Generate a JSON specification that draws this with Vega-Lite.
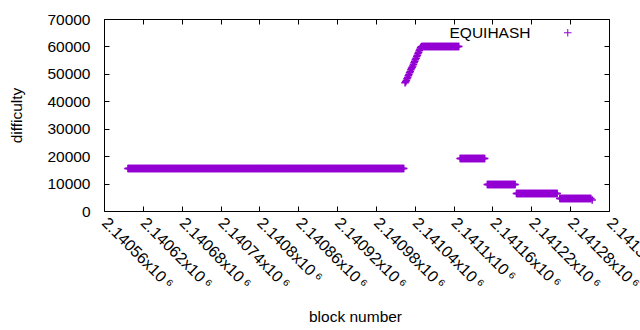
{
"$schema":"https://vega.github.io/schema/vega-lite/v6.json",
"width":505,"height":192,
"autosize":{"type":"none"},
"padding":{"left":104,"top":19,"right":31,"bottom":119},
"config":{"view":{"stroke":"#000","strokeWidth":1},"font":"Liberation Sans","axis":{"grid":false,"domain":false,"tickColor":"#000","tickWidth":1,"labelColor":"#000","titleColor":"#000","labelFontSize":15.5,"titleFontSize":15.5,"titleFontWeight":"normal"}},
"data":{"values":[
{"b":2140597,"d":15500},{"b":2140598,"d":15500},{"b":2140599,"d":15500},
{"b":2140600,"d":15500},{"b":2140601,"d":15500},{"b":2140602,"d":15500},{"b":2140603,"d":15500},{"b":2140604,"d":15500},{"b":2140605,"d":15500},{"b":2140606,"d":15500},{"b":2140607,"d":15500},{"b":2140608,"d":15500},{"b":2140609,"d":15500},
{"b":2140610,"d":15500},{"b":2140611,"d":15500},{"b":2140612,"d":15500},{"b":2140613,"d":15500},{"b":2140614,"d":15500},{"b":2140615,"d":15500},{"b":2140616,"d":15500},{"b":2140617,"d":15500},{"b":2140618,"d":15500},{"b":2140619,"d":15500},
{"b":2140620,"d":15500},{"b":2140621,"d":15500},{"b":2140622,"d":15500},{"b":2140623,"d":15500},{"b":2140624,"d":15500},{"b":2140625,"d":15500},{"b":2140626,"d":15500},{"b":2140627,"d":15500},{"b":2140628,"d":15500},{"b":2140629,"d":15500},
{"b":2140630,"d":15500},{"b":2140631,"d":15500},{"b":2140632,"d":15500},{"b":2140633,"d":15500},{"b":2140634,"d":15500},{"b":2140635,"d":15500},{"b":2140636,"d":15500},{"b":2140637,"d":15500},{"b":2140638,"d":15500},{"b":2140639,"d":15500},
{"b":2140640,"d":15500},{"b":2140641,"d":15500},{"b":2140642,"d":15500},{"b":2140643,"d":15500},{"b":2140644,"d":15500},{"b":2140645,"d":15500},{"b":2140646,"d":15500},{"b":2140647,"d":15500},{"b":2140648,"d":15500},{"b":2140649,"d":15500},
{"b":2140650,"d":15500},{"b":2140651,"d":15500},{"b":2140652,"d":15500},{"b":2140653,"d":15500},{"b":2140654,"d":15500},{"b":2140655,"d":15500},{"b":2140656,"d":15500},{"b":2140657,"d":15500},{"b":2140658,"d":15500},{"b":2140659,"d":15500},
{"b":2140660,"d":15500},{"b":2140661,"d":15500},{"b":2140662,"d":15500},{"b":2140663,"d":15500},{"b":2140664,"d":15500},{"b":2140665,"d":15500},{"b":2140666,"d":15500},{"b":2140667,"d":15500},{"b":2140668,"d":15500},{"b":2140669,"d":15500},
{"b":2140670,"d":15500},{"b":2140671,"d":15500},{"b":2140672,"d":15500},{"b":2140673,"d":15500},{"b":2140674,"d":15500},{"b":2140675,"d":15500},{"b":2140676,"d":15500},{"b":2140677,"d":15500},{"b":2140678,"d":15500},{"b":2140679,"d":15500},
{"b":2140680,"d":15500},{"b":2140681,"d":15500},{"b":2140682,"d":15500},{"b":2140683,"d":15500},{"b":2140684,"d":15500},{"b":2140685,"d":15500},{"b":2140686,"d":15500},{"b":2140687,"d":15500},{"b":2140688,"d":15500},{"b":2140689,"d":15500},
{"b":2140690,"d":15500},{"b":2140691,"d":15500},{"b":2140692,"d":15500},{"b":2140693,"d":15500},{"b":2140694,"d":15500},{"b":2140695,"d":15500},{"b":2140696,"d":15500},{"b":2140697,"d":15500},{"b":2140698,"d":15500},{"b":2140699,"d":15500},
{"b":2140700,"d":15500},{"b":2140701,"d":15500},{"b":2140702,"d":15500},{"b":2140703,"d":15500},{"b":2140704,"d":15500},{"b":2140705,"d":15500},{"b":2140706,"d":15500},{"b":2140707,"d":15500},{"b":2140708,"d":15500},{"b":2140709,"d":15500},
{"b":2140710,"d":15500},{"b":2140711,"d":15500},{"b":2140712,"d":15500},{"b":2140713,"d":15500},{"b":2140714,"d":15500},{"b":2140715,"d":15500},{"b":2140716,"d":15500},{"b":2140717,"d":15500},{"b":2140718,"d":15500},{"b":2140719,"d":15500},
{"b":2140720,"d":15500},{"b":2140721,"d":15500},{"b":2140722,"d":15500},{"b":2140723,"d":15500},{"b":2140724,"d":15500},{"b":2140725,"d":15500},{"b":2140726,"d":15500},{"b":2140727,"d":15500},{"b":2140728,"d":15500},{"b":2140729,"d":15500},
{"b":2140730,"d":15500},{"b":2140731,"d":15500},{"b":2140732,"d":15500},{"b":2140733,"d":15500},{"b":2140734,"d":15500},{"b":2140735,"d":15500},{"b":2140736,"d":15500},{"b":2140737,"d":15500},{"b":2140738,"d":15500},{"b":2140739,"d":15500},
{"b":2140740,"d":15500},{"b":2140741,"d":15500},{"b":2140742,"d":15500},{"b":2140743,"d":15500},{"b":2140744,"d":15500},{"b":2140745,"d":15500},{"b":2140746,"d":15500},{"b":2140747,"d":15500},{"b":2140748,"d":15500},{"b":2140749,"d":15500},
{"b":2140750,"d":15500},{"b":2140751,"d":15500},{"b":2140752,"d":15500},{"b":2140753,"d":15500},{"b":2140754,"d":15500},{"b":2140755,"d":15500},{"b":2140756,"d":15500},{"b":2140757,"d":15500},{"b":2140758,"d":15500},{"b":2140759,"d":15500},
{"b":2140760,"d":15500},{"b":2140761,"d":15500},{"b":2140762,"d":15500},{"b":2140763,"d":15500},{"b":2140764,"d":15500},{"b":2140765,"d":15500},{"b":2140766,"d":15500},{"b":2140767,"d":15500},{"b":2140768,"d":15500},{"b":2140769,"d":15500},
{"b":2140770,"d":15500},{"b":2140771,"d":15500},{"b":2140772,"d":15500},{"b":2140773,"d":15500},{"b":2140774,"d":15500},{"b":2140775,"d":15500},{"b":2140776,"d":15500},{"b":2140777,"d":15500},{"b":2140778,"d":15500},{"b":2140779,"d":15500},
{"b":2140780,"d":15500},{"b":2140781,"d":15500},{"b":2140782,"d":15500},{"b":2140783,"d":15500},{"b":2140784,"d":15500},{"b":2140785,"d":15500},{"b":2140786,"d":15500},{"b":2140787,"d":15500},{"b":2140788,"d":15500},{"b":2140789,"d":15500},
{"b":2140790,"d":15500},{"b":2140791,"d":15500},{"b":2140792,"d":15500},{"b":2140793,"d":15500},{"b":2140794,"d":15500},{"b":2140795,"d":15500},{"b":2140796,"d":15500},{"b":2140797,"d":15500},{"b":2140798,"d":15500},{"b":2140799,"d":15500},
{"b":2140800,"d":15500},{"b":2140801,"d":15500},{"b":2140802,"d":15500},{"b":2140803,"d":15500},{"b":2140804,"d":15500},{"b":2140805,"d":15500},{"b":2140806,"d":15500},{"b":2140807,"d":15500},{"b":2140808,"d":15500},{"b":2140809,"d":15500},
{"b":2140810,"d":15500},{"b":2140811,"d":15500},{"b":2140812,"d":15500},{"b":2140813,"d":15500},{"b":2140814,"d":15500},{"b":2140815,"d":15500},{"b":2140816,"d":15500},{"b":2140817,"d":15500},{"b":2140818,"d":15500},{"b":2140819,"d":15500},
{"b":2140820,"d":15500},{"b":2140821,"d":15500},{"b":2140822,"d":15500},{"b":2140823,"d":15500},{"b":2140824,"d":15500},{"b":2140825,"d":15500},{"b":2140826,"d":15500},{"b":2140827,"d":15500},{"b":2140828,"d":15500},{"b":2140829,"d":15500},
{"b":2140830,"d":15500},{"b":2140831,"d":15500},{"b":2140832,"d":15500},{"b":2140833,"d":15500},{"b":2140834,"d":15500},{"b":2140835,"d":15500},{"b":2140836,"d":15500},{"b":2140837,"d":15500},{"b":2140838,"d":15500},{"b":2140839,"d":15500},
{"b":2140840,"d":15500},{"b":2140841,"d":15500},{"b":2140842,"d":15500},{"b":2140843,"d":15500},{"b":2140844,"d":15500},{"b":2140845,"d":15500},{"b":2140846,"d":15500},{"b":2140847,"d":15500},{"b":2140848,"d":15500},{"b":2140849,"d":15500},
{"b":2140850,"d":15500},{"b":2140851,"d":15500},{"b":2140852,"d":15500},{"b":2140853,"d":15500},{"b":2140854,"d":15500},{"b":2140855,"d":15500},{"b":2140856,"d":15500},{"b":2140857,"d":15500},{"b":2140858,"d":15500},{"b":2140859,"d":15500},
{"b":2140860,"d":15500},{"b":2140861,"d":15500},{"b":2140862,"d":15500},{"b":2140863,"d":15500},{"b":2140864,"d":15500},{"b":2140865,"d":15500},{"b":2140866,"d":15500},{"b":2140867,"d":15500},{"b":2140868,"d":15500},{"b":2140869,"d":15500},
{"b":2140870,"d":15500},{"b":2140871,"d":15500},{"b":2140872,"d":15500},{"b":2140873,"d":15500},{"b":2140874,"d":15500},{"b":2140875,"d":15500},{"b":2140876,"d":15500},{"b":2140877,"d":15500},{"b":2140878,"d":15500},{"b":2140879,"d":15500},
{"b":2140880,"d":15500},{"b":2140881,"d":15500},{"b":2140882,"d":15500},{"b":2140883,"d":15500},{"b":2140884,"d":15500},{"b":2140885,"d":15500},{"b":2140886,"d":15500},{"b":2140887,"d":15500},{"b":2140888,"d":15500},{"b":2140889,"d":15500},
{"b":2140890,"d":15500},{"b":2140891,"d":15500},{"b":2140892,"d":15500},{"b":2140893,"d":15500},{"b":2140894,"d":15500},{"b":2140895,"d":15500},{"b":2140896,"d":15500},{"b":2140897,"d":15500},{"b":2140898,"d":15500},{"b":2140899,"d":15500},
{"b":2140900,"d":15500},{"b":2140901,"d":15500},{"b":2140902,"d":15500},{"b":2140903,"d":15500},{"b":2140904,"d":15500},{"b":2140905,"d":15500},{"b":2140906,"d":15500},{"b":2140907,"d":15500},{"b":2140908,"d":15500},{"b":2140909,"d":15500},
{"b":2140910,"d":15500},{"b":2140911,"d":15500},{"b":2140912,"d":15500},{"b":2140913,"d":15500},{"b":2140914,"d":15500},{"b":2140915,"d":15500},{"b":2140916,"d":15500},{"b":2140917,"d":15500},{"b":2140918,"d":15500},{"b":2140919,"d":15500},
{"b":2140920,"d":15500},{"b":2140921,"d":15500},{"b":2140922,"d":15500},{"b":2140923,"d":15500},{"b":2140924,"d":15500},{"b":2140925,"d":15500},{"b":2140926,"d":15500},{"b":2140927,"d":15500},{"b":2140928,"d":15500},{"b":2140929,"d":15500},
{"b":2140930,"d":15500},{"b":2140931,"d":15500},{"b":2140932,"d":15500},{"b":2140933,"d":15500},{"b":2140934,"d":15500},{"b":2140935,"d":15500},{"b":2140936,"d":15500},{"b":2140937,"d":15500},{"b":2140938,"d":15500},{"b":2140939,"d":15500},
{"b":2140940,"d":15500},{"b":2140941,"d":15500},{"b":2140942,"d":15500},{"b":2140943,"d":15500},{"b":2140944,"d":15500},{"b":2140945,"d":15500},{"b":2140946,"d":15500},{"b":2140947,"d":15500},{"b":2140948,"d":15500},{"b":2140949,"d":15500},
{"b":2140950,"d":15500},{"b":2140951,"d":15500},{"b":2140952,"d":15500},{"b":2140953,"d":15500},{"b":2140954,"d":15500},{"b":2140955,"d":15500},{"b":2140956,"d":15500},{"b":2140957,"d":15500},{"b":2140958,"d":15500},{"b":2140959,"d":15500},
{"b":2140960,"d":15500},{"b":2140961,"d":15500},{"b":2140962,"d":15500},{"b":2140963,"d":15500},{"b":2140964,"d":15500},{"b":2140965,"d":15500},{"b":2140966,"d":15500},{"b":2140967,"d":15500},{"b":2140968,"d":15500},{"b":2140969,"d":15500},
{"b":2140970,"d":15500},{"b":2140971,"d":15500},{"b":2140972,"d":15500},{"b":2140973,"d":15500},{"b":2140974,"d":15500},{"b":2140975,"d":15500},{"b":2140976,"d":15500},{"b":2140977,"d":15500},{"b":2140978,"d":15500},{"b":2140979,"d":15500},
{"b":2140980,"d":15500},{"b":2140981,"d":15500},{"b":2140982,"d":15500},{"b":2140983,"d":15500},{"b":2140984,"d":15500},{"b":2140985,"d":15500},{"b":2140986,"d":15500},{"b":2140987,"d":15500},{"b":2140988,"d":15500},{"b":2140989,"d":15500},
{"b":2140990,"d":15500},{"b":2140991,"d":15500},{"b":2140992,"d":15500},{"b":2140993,"d":15500},{"b":2140994,"d":15500},{"b":2140995,"d":15500},{"b":2140996,"d":15500},{"b":2140997,"d":15500},{"b":2140998,"d":15500},{"b":2140999,"d":15500},
{"b":2141000,"d":15500},{"b":2141001,"d":15500},{"b":2141002,"d":15500},{"b":2141003,"d":15500},{"b":2141004,"d":15500},{"b":2141005,"d":15500},{"b":2141006,"d":15500},{"b":2141007,"d":15500},{"b":2141008,"d":15500},{"b":2141009,"d":15500},
{"b":2141010,"d":15500},{"b":2141011,"d":15500},{"b":2141012,"d":15500},{"b":2141013,"d":15500},{"b":2141014,"d":15500},{"b":2141015,"d":15500},{"b":2141016,"d":15500},{"b":2141017,"d":15500},{"b":2141018,"d":15500},{"b":2141019,"d":15500},
{"b":2141020,"d":15500},{"b":2141021,"d":15500},{"b":2141022,"d":15500},{"b":2141023,"d":15500},
{"b":2141025,"d":46800},{"b":2141026,"d":47100},{"b":2141027,"d":47600},{"b":2141028,"d":48200},{"b":2141029,"d":48700},{"b":2141030,"d":49300},{"b":2141031,"d":49800},{"b":2141032,"d":50400},{"b":2141033,"d":50900},{"b":2141034,"d":51500},
{"b":2141035,"d":52000},{"b":2141036,"d":52400},{"b":2141037,"d":52900},{"b":2141038,"d":53500},{"b":2141039,"d":54100},{"b":2141040,"d":54600},{"b":2141041,"d":55200},{"b":2141042,"d":55700},{"b":2141043,"d":56300},{"b":2141044,"d":56800},
{"b":2141045,"d":57400},{"b":2141046,"d":57900},{"b":2141047,"d":58500},{"b":2141048,"d":59000},{"b":2141049,"d":59500},{"b":2141050,"d":59900},
{"b":2141051,"d":60000},{"b":2141052,"d":60000},{"b":2141053,"d":60000},{"b":2141054,"d":60000},{"b":2141055,"d":60000},{"b":2141056,"d":60000},{"b":2141057,"d":60000},{"b":2141058,"d":60000},{"b":2141059,"d":60000},
{"b":2141060,"d":60000},{"b":2141061,"d":60000},{"b":2141062,"d":60000},{"b":2141063,"d":60000},{"b":2141064,"d":60000},{"b":2141065,"d":60000},{"b":2141066,"d":60000},{"b":2141067,"d":60000},{"b":2141068,"d":60000},{"b":2141069,"d":60000},
{"b":2141070,"d":60000},{"b":2141071,"d":60000},{"b":2141072,"d":60000},{"b":2141073,"d":60000},{"b":2141074,"d":60000},{"b":2141075,"d":60000},{"b":2141076,"d":60000},{"b":2141077,"d":60000},{"b":2141078,"d":60000},{"b":2141079,"d":60000},
{"b":2141080,"d":60000},{"b":2141081,"d":60000},{"b":2141082,"d":60000},{"b":2141083,"d":60000},{"b":2141084,"d":60000},{"b":2141085,"d":60000},{"b":2141086,"d":60000},{"b":2141087,"d":60000},{"b":2141088,"d":60000},{"b":2141089,"d":60000},
{"b":2141090,"d":60000},{"b":2141091,"d":60000},{"b":2141092,"d":60000},{"b":2141093,"d":60000},{"b":2141094,"d":60000},{"b":2141095,"d":60000},{"b":2141096,"d":60000},{"b":2141097,"d":60000},{"b":2141098,"d":60000},{"b":2141099,"d":60000},
{"b":2141100,"d":60000},{"b":2141101,"d":60000},{"b":2141102,"d":60000},{"b":2141103,"d":60000},{"b":2141104,"d":60000},{"b":2141105,"d":60000},{"b":2141106,"d":60000},{"b":2141107,"d":60000},{"b":2141108,"d":60000},
{"b":2141110,"d":19150},{"b":2141111,"d":19150},{"b":2141112,"d":19150},{"b":2141113,"d":19150},{"b":2141114,"d":19150},{"b":2141115,"d":19150},{"b":2141116,"d":19150},{"b":2141117,"d":19150},{"b":2141118,"d":19150},{"b":2141119,"d":19150},
{"b":2141120,"d":19150},{"b":2141121,"d":19150},{"b":2141122,"d":19150},{"b":2141123,"d":19150},{"b":2141124,"d":19150},{"b":2141125,"d":19150},{"b":2141126,"d":19150},{"b":2141127,"d":19150},{"b":2141128,"d":19150},{"b":2141129,"d":19150},
{"b":2141130,"d":19150},{"b":2141131,"d":19150},{"b":2141132,"d":19150},{"b":2141133,"d":19150},{"b":2141134,"d":19150},{"b":2141135,"d":19150},{"b":2141136,"d":19150},{"b":2141137,"d":19150},{"b":2141138,"d":19150},{"b":2141139,"d":19150},
{"b":2141140,"d":19150},{"b":2141141,"d":19150},{"b":2141142,"d":19150},{"b":2141143,"d":19150},{"b":2141144,"d":19150},{"b":2141145,"d":19150},{"b":2141146,"d":19150},{"b":2141147,"d":19150},{"b":2141148,"d":19150},
{"b":2141152,"d":9660},{"b":2141153,"d":9660},{"b":2141154,"d":9660},{"b":2141155,"d":9660},{"b":2141156,"d":9660},{"b":2141157,"d":9660},{"b":2141158,"d":9660},{"b":2141159,"d":9660},
{"b":2141160,"d":9660},{"b":2141161,"d":9660},{"b":2141162,"d":9660},{"b":2141163,"d":9660},{"b":2141164,"d":9660},{"b":2141165,"d":9660},{"b":2141166,"d":9660},{"b":2141167,"d":9660},{"b":2141168,"d":9660},{"b":2141169,"d":9660},
{"b":2141170,"d":9660},{"b":2141171,"d":9660},{"b":2141172,"d":9660},{"b":2141173,"d":9660},{"b":2141174,"d":9660},{"b":2141175,"d":9660},{"b":2141176,"d":9660},{"b":2141177,"d":9660},{"b":2141178,"d":9660},{"b":2141179,"d":9660},
{"b":2141180,"d":9660},{"b":2141181,"d":9660},{"b":2141182,"d":9660},{"b":2141183,"d":9660},{"b":2141184,"d":9660},{"b":2141185,"d":9660},{"b":2141186,"d":9660},{"b":2141187,"d":9660},{"b":2141188,"d":9660},{"b":2141189,"d":9660},
{"b":2141190,"d":9660},{"b":2141191,"d":9660},{"b":2141192,"d":9660},{"b":2141193,"d":9660},{"b":2141194,"d":9660},{"b":2141195,"d":9660},
{"b":2141197,"d":6380},{"b":2141198,"d":6380},{"b":2141199,"d":6380},
{"b":2141200,"d":6380},{"b":2141201,"d":6380},{"b":2141202,"d":6380},{"b":2141203,"d":6380},{"b":2141204,"d":6380},{"b":2141205,"d":6380},{"b":2141206,"d":6380},{"b":2141207,"d":6380},{"b":2141208,"d":6380},{"b":2141209,"d":6380},
{"b":2141210,"d":6380},{"b":2141211,"d":6380},{"b":2141212,"d":6380},{"b":2141213,"d":6380},{"b":2141214,"d":6380},{"b":2141215,"d":6380},{"b":2141216,"d":6380},{"b":2141217,"d":6380},{"b":2141218,"d":6380},{"b":2141219,"d":6380},
{"b":2141220,"d":6380},{"b":2141221,"d":6380},{"b":2141222,"d":6380},{"b":2141223,"d":6380},{"b":2141224,"d":6380},{"b":2141225,"d":6380},{"b":2141226,"d":6380},{"b":2141227,"d":6380},{"b":2141228,"d":6380},{"b":2141229,"d":6380},
{"b":2141230,"d":6380},{"b":2141231,"d":6380},{"b":2141232,"d":6380},{"b":2141233,"d":6380},{"b":2141234,"d":6380},{"b":2141235,"d":6380},{"b":2141236,"d":6380},{"b":2141237,"d":6380},{"b":2141238,"d":6380},{"b":2141239,"d":6380},
{"b":2141240,"d":6380},{"b":2141241,"d":6380},{"b":2141242,"d":6380},{"b":2141243,"d":6380},{"b":2141244,"d":6380},{"b":2141245,"d":6380},{"b":2141246,"d":6380},{"b":2141247,"d":6380},{"b":2141248,"d":6380},{"b":2141249,"d":6380},
{"b":2141250,"d":6380},{"b":2141251,"d":6380},{"b":2141252,"d":6380},{"b":2141253,"d":6380},{"b":2141254,"d":6380},{"b":2141255,"d":6380},{"b":2141256,"d":6380},{"b":2141257,"d":6380},{"b":2141258,"d":6380},{"b":2141259,"d":6380},
{"b":2141260,"d":6380},
{"b":2141264,"d":4560},{"b":2141265,"d":4560},{"b":2141266,"d":4560},{"b":2141267,"d":4560},{"b":2141268,"d":4560},{"b":2141269,"d":4560},
{"b":2141270,"d":4560},{"b":2141271,"d":4560},{"b":2141272,"d":4560},{"b":2141273,"d":4560},{"b":2141274,"d":4560},{"b":2141275,"d":4560},{"b":2141276,"d":4560},{"b":2141277,"d":4560},{"b":2141278,"d":4560},{"b":2141279,"d":4560},
{"b":2141280,"d":4560},{"b":2141281,"d":4560},{"b":2141282,"d":4560},{"b":2141283,"d":4560},{"b":2141284,"d":4560},{"b":2141285,"d":4560},{"b":2141286,"d":4560},{"b":2141287,"d":4560},{"b":2141288,"d":4560},{"b":2141289,"d":4560},
{"b":2141290,"d":4560},{"b":2141291,"d":4560},{"b":2141292,"d":4560},{"b":2141293,"d":4560},{"b":2141294,"d":4560},{"b":2141295,"d":4560},{"b":2141296,"d":4560},{"b":2141297,"d":4560},{"b":2141298,"d":4560},{"b":2141299,"d":4560},
{"b":2141300,"d":4560},{"b":2141301,"d":4560},{"b":2141302,"d":4560},{"b":2141303,"d":4560},{"b":2141304,"d":4560},{"b":2141305,"d":4560},{"b":2141306,"d":4560},{"b":2141307,"d":4560},{"b":2141308,"d":4560},{"b":2141309,"d":4560},
{"b":2141310,"d":4560},{"b":2141311,"d":4560},{"b":2141312,"d":4560},
{"b":2141314,"d":4000}
]},
"layer":[
{"mark":{"type":"point","shape":"M-1,0H1M0,-1V1","size":56,"filled":false,"strokeWidth":1.5,"opacity":1},
 "encoding":{
  "x":{"field":"b","type":"quantitative","scale":{"domain":[2140560,2141340],"nice":false,"zero":false},
   "axis":{"orient":"bottom","values":[2140560,2140620,2140680,2140740,2140800,2140860,2140920,2140980,2141040,2141100,2141160,2141220,2141280,2141340],
    "labelExpr":"format(datum.value/1000000,'.6~g')+'x10\u2009⁶'","labelFontSize":16,"labelAngle":45,"labelAlign":"left","labelBaseline":"middle","tickSize":-5,"labelPadding":14,"labelFlush":false,"labelOverlap":false,"labelBound":false,
    "title":"block number","titleX":251,"titleY":105,"titleBaseline":"middle","titleAlign":"center"}},
  "y":{"field":"d","type":"quantitative","scale":{"domain":[0,70000],"nice":false},
   "axis":{"orient":"left","values":[0,10000,20000,30000,40000,50000,60000,70000],"format":"d","tickSize":-5,"labelPadding":19,"labelFlush":false,"labelOverlap":false,
    "title":"difficulty","titleX":-88,"titleY":96,"titleAngle":-90,"titleBaseline":"middle","titleAlign":"center"}},
  "color":{"datum":"EQUIHASH","type":"nominal","scale":{"range":["#9400d3"]},
   "legend":{"title":null,"orient":"none","legendX":456,"legendY":6,"padding":0,"symbolType":"M-1,0H1M0,-1V1","symbolSize":56,"symbolStrokeWidth":1,"labelFontSize":15.5,"labelColor":"#000","labelAlign":"right","labelOffset":-45,"labelFont":"Liberation Sans"}}
 }},
{"mark":{"type":"point","opacity":0},
 "encoding":{
  "x":{"field":"b","type":"quantitative","axis":{"orient":"top","values":[2140560,2140620,2140680,2140740,2140800,2140860,2140920,2140980,2141040,2141100,2141160,2141220,2141280,2141340],"labels":false,"tickSize":-5,"title":null}},
  "y":{"field":"d","type":"quantitative","axis":{"orient":"right","values":[0,10000,20000,30000,40000,50000,60000,70000],"labels":false,"tickSize":-5,"title":null}}
 }}
],
"resolve":{"axis":{"x":"independent","y":"independent"}}
}
